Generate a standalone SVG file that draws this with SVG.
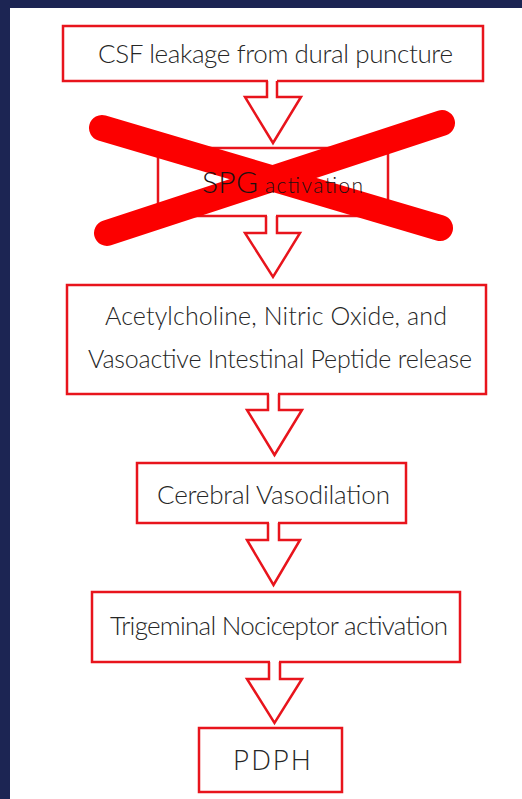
<svg xmlns="http://www.w3.org/2000/svg" width="522" height="799" viewBox="0 0 522 799">
  <style>
    .box { fill: #ffffff; stroke: #e8141c; stroke-width: 2.5; }
    .arr { fill: none; stroke: #e8141c; stroke-width: 2.5; stroke-linejoin: miter; }
    .gap { fill: #ffffff; stroke: none; }
    .t { font-family: Lato, "Liberation Sans", sans-serif; font-weight: 300; fill: #262626; text-anchor: middle; }
    .s { font-family: Lato, "Liberation Sans", sans-serif; font-weight: 300; fill: #1e1010; }
    .x { stroke: #fc0000; stroke-width: 26; stroke-linecap: round; fill: none; }
  </style>
  <rect x="0" y="0" width="522" height="799" fill="#ffffff"/>
  <rect x="0" y="0" width="522" height="8" fill="#1c2553"/>
  <rect x="0" y="0" width="10" height="799" fill="#1c2553"/>

  <g id="n1">
    <rect class="box" x="63" y="26" width="420" height="55"/>
    <text class="t" x="275.5" y="63" font-size="26" textLength="355">CSF leakage from dural puncture</text>
  </g>
  <g id="n2">
    <rect class="box" x="158" y="148" width="230" height="68"/>
  </g>
  <g id="n3">
    <rect class="box" x="67" y="285" width="419" height="109"/>
    <text class="t" x="276" y="325" font-size="25" textLength="342">Acetylcholine, Nitric Oxide, and</text>
    <text class="t" x="280" y="368" font-size="25" textLength="384">Vasoactive Intestinal Peptide release</text>
  </g>
  <g id="n4">
    <rect class="box" x="137" y="463" width="269" height="60"/>
    <text class="t" x="273.5" y="504" font-size="26" textLength="233">Cerebral Vasodilation</text>
  </g>
  <g id="n5">
    <rect class="box" x="92" y="592" width="368" height="70"/>
    <text class="t" x="279" y="635" font-size="26" textLength="338">Trigeminal Nociceptor activation</text>
  </g>
  <g id="n6">
    <rect class="box" x="199" y="728" width="143" height="64"/>
    <text class="t" x="272" y="770" font-size="28" textLength="78" style="font-family:'Open Sans','Noto Sans',sans-serif;font-weight:300">PDPH</text>
  </g>

  <g id="connectors">
    <rect class="gap" x="268" y="78" width="9" height="6"/>
    <path class="arr" d="M267,81 V97 H245 L273,143 L301,97 H277 V81"/>
    <rect class="gap" x="267" y="213" width="9" height="6"/>
    <path class="arr" d="M266,216 V233 H245 L273,277 L300,233 H277 V216"/>
    <rect class="gap" x="269" y="391" width="9" height="6"/>
    <path class="arr" d="M268,394 V410 H247 L274.5,455 L302,410 H279 V394"/>
    <rect class="gap" x="269" y="520" width="9" height="6"/>
    <path class="arr" d="M268,523 V540 H247 L273.5,585 L300,540 H279 V523"/>
    <rect class="gap" x="270" y="659" width="9" height="6"/>
    <path class="arr" d="M269,662 V679 H247 L274.5,723 L302,679 H280 V662"/>
  </g>

  <g id="cross">
    <line class="x" x1="102" y1="128" x2="440" y2="228"/>
    <line class="x" x1="107" y1="233" x2="442" y2="123"/>
  </g>
  <g id="n2-label">
    <text class="s" x="202" y="193" font-size="30" textLength="56">SPG</text>
    <text class="s" x="265" y="193" font-size="21" textLength="98">activation</text>
  </g>
</svg>
